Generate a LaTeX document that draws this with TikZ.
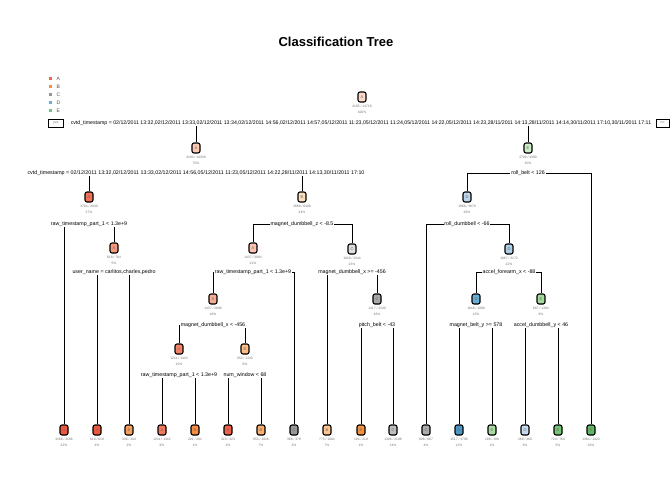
\documentclass[tikz,border=0pt]{standalone}
\usepackage{fontspec}
\setmainfont{Liberation Sans}
\begin{document}
\begin{tikzpicture}[x=1pt,y=-1pt]
\definecolor{cLa}{HTML}{EF6548}
\definecolor{cLb}{HTML}{FD8D3C}
\definecolor{cLc}{HTML}{969696}
\definecolor{cLd}{HTML}{6BAED6}
\definecolor{cLe}{HTML}{74C476}
\tikzset{
 tn/.style={draw=black, line width=1.1pt, rounded corners=2pt, minimum width=8pt, minimum height=10pt, inner sep=0pt, font=\fontsize{4}{4}\selectfont, text=black!60},
 sl/.style={fill=white, inner sep=0.8pt, font=\fontsize{5.3}{5.3}\selectfont},
 st/.style={font=\fontsize{3.3}{5.5}\selectfont, text=black!55, align=center, inner sep=0pt, anchor=north},
 br/.style={line width=0.9pt},
 yn/.style={draw=black, line width=1pt, minimum width=15pt, minimum height=8pt, inner sep=0pt, font=\fontsize{3.3}{3.3}\selectfont, text=black!55},
 lg/.style={minimum size=3pt, inner sep=0pt},
 lt/.style={font=\fontsize{5}{5}\selectfont, text=black!70, anchor=west, inner sep=0pt}
}
\useasboundingbox[fill=white] (0,0) rectangle (672,480);
\node[font=\fontsize{13}{13}\selectfont\bfseries] (title) at (336,42) {Classification Tree};
% legend
\node[lg, fill=cLa] (ga) at (50,78) {}; \node[lt] (ta) at (56.5,79) {A};
\node[lg, fill=cLb] (gb) at (50,86) {}; \node[lt] (tb) at (56.5,87) {B};
\node[lg, fill=cLc] (gc) at (50,94) {}; \node[lt] (tc) at (56.5,95) {C};
\node[lg, fill=cLd] (gd) at (50,102) {}; \node[lt] (td) at (56.5,103) {D};
\node[lg, fill=cLe] (ge) at (50,110) {}; \node[lt] (te) at (56.5,111) {E};
% internal nodes
\node[tn, fill={rgb,255:red,252;green,218;blue,202}] (n1) at (362,97) {A};
\node[tn, fill={rgb,255:red,252;green,200;blue,180}] (n2) at (196,148) {A};
\node[tn, fill={rgb,255:red,205;green,236;blue,199}] (n3) at (528,148) {E};
\node[tn, fill={rgb,255:red,243;green,112;blue,86}] (n4) at (89,197) {A};
\node[tn, fill={rgb,255:red,253;green,222;blue,186}] (n5) at (302,197) {B};
\node[tn, fill={rgb,255:red,188;green,214;blue,236}] (n6) at (467,197) {D};
\node[tn, fill={rgb,255:red,246;green,152;blue,125}] (n7) at (114,248) {A};
\node[tn, fill={rgb,255:red,252;green,196;blue,175}] (n8) at (253,248) {A};
\node[tn, fill={rgb,255:red,222;green,222;blue,222}] (n9) at (352,249) {C};
\node[tn, fill={rgb,255:red,172;green,206;blue,230}] (n10) at (509,249) {D};
\node[tn, fill={rgb,255:red,249;green,172;blue,149}] (n11) at (213,299) {A};
\node[tn, fill={rgb,255:red,168;green,168;blue,168}] (n12) at (377,299) {C};
\node[tn, fill={rgb,255:red,106;green,174;blue,214}] (n13) at (476,299) {D};
\node[tn, fill={rgb,255:red,165;green,218;blue,158}] (n14) at (541,299) {E};
\node[tn, fill={rgb,255:red,244;green,130;blue,102}] (n15) at (179,349) {A};
\node[tn, fill={rgb,255:red,253;green,190;blue,133}] (n16) at (245,349) {B};
% leaves
\node[tn, fill={rgb,255:red,238;green,88;blue,62}] (l1) at (64,430) {A};
\node[tn, fill={rgb,255:red,238;green,88;blue,62}] (l2) at (97,430) {A};
\node[tn, fill={rgb,255:red,249;green,160;blue,92}] (l3) at (129,430) {B};
\node[tn, fill={rgb,255:red,244;green,122;blue,94}] (l4) at (162,430) {A};
\node[tn, fill={rgb,255:red,248;green,140;blue,64}] (l5) at (195,430) {B};
\node[tn, fill={rgb,255:red,240;green,98;blue,72}] (l6) at (228,430) {A};
\node[tn, fill={rgb,255:red,252;green,174;blue,108}] (l7) at (261,430) {B};
\node[tn, fill={rgb,255:red,152;green,152;blue,152}] (l8) at (294,430) {C};
\node[tn, fill={rgb,255:red,253;green,196;blue,142}] (l9) at (327,430) {B};
\node[tn, fill={rgb,255:red,247;green,146;blue,62}] (l10) at (361,430) {B};
\node[tn, fill={rgb,255:red,190;green,190;blue,190}] (l11) at (393,430) {C};
\node[tn, fill={rgb,255:red,172;green,172;blue,172}] (l12) at (426,430) {C};
\node[tn, fill={rgb,255:red,74;green,152;blue,201}] (l13) at (459,430) {D};
\node[tn, fill={rgb,255:red,168;green,219;blue,160}] (l14) at (492,430) {E};
\node[tn, fill={rgb,255:red,198;green,219;blue,239}] (l15) at (525,430) {D};
\node[tn, fill={rgb,255:red,116;green,196;blue,118}] (l16) at (558,430) {E};
\node[tn, fill={rgb,255:red,96;green,184;blue,101}] (l17) at (591,430) {E};
% stats
\foreach \n/\t in {n1/{4185 / 14718\\100\%}, n2/{4183 / 10338\\70\%}, n3/{2706 / 4380\\30\%}, n4/{3784 / 3930\\27\%}, n5/{2688 / 6408\\44\%}, n6/{1868 / 3879\\26\%}, n7/{618 / 764\\5\%}, n8/{1437 / 3064\\21\%}, n9/{1628 / 3344\\23\%}, n10/{1687 / 3172\\22\%}, n11/{1437 / 2686\\18\%}, n12/{1417 / 2340\\16\%}, n13/{1648 / 1908\\13\%}, n14/{667 / 1264\\9\%}, n15/{1211 / 1443\\10\%}, n16/{953 / 1243\\8\%}, l1/{3166 / 3166\\22\%}, l2/{618 / 618\\4\%}, l3/{336 / 344\\2\%}, l4/{1211 / 1342\\9\%}, l5/{201 / 201\\1\%}, l6/{323 / 323\\2\%}, l7/{953 / 1016\\7\%}, l8/{366 / 378\\3\%}, l9/{773 / 1004\\7\%}, l10/{194 / 218\\1\%}, l11/{1396 / 2108\\14\%}, l12/{606 / 607\\4\%}, l13/{1517 / 1709\\12\%}, l14/{198 / 199\\1\%}, l15/{289 / 480\\3\%}, l16/{724 / 764\\5\%}, l17/{1384 / 1423\\10\%}}
  {\node[st] (t\n) at ([yshift=-2.5pt]\n.south) {\t};}
% split coordinates
\coordinate (s1) at (361,123);
\coordinate (s2) at (196,173);
\coordinate (s3) at (528,173);
\coordinate (s4) at (89,224);
\coordinate (s5) at (302,224);
\coordinate (s6) at (467,224);
\coordinate (s7) at (114,272);
\coordinate (s8) at (253,272);
\coordinate (s9) at (352,272);
\coordinate (s10) at (509,272);
\coordinate (s11) at (213,325);
\coordinate (s12) at (377,325);
\coordinate (s13) at (476,325);
\coordinate (s14) at (541,325);
\coordinate (s15) at (179,375);
\coordinate (s16) at (245,375);
% branches
\foreach \s/\a/\b in {s1/n2/n3, s2/n4/n5, s3/n6/l17, s4/l1/n7, s5/n8/n9, s6/l12/n10, s7/l2/l3, s8/n11/l8, s9/l9/n12, s10/n13/n14, s11/n15/n16, s12/l10/l11, s13/l13/l14, s14/l15/l16, s15/l4/l5, s16/l6/l7}
  {\draw[br] (\a.north) -- (\a.north |- \s) -- (\b.north |- \s) -- (\b.north);}
% split labels
\node[sl, inner sep=0.3pt, font=\fontsize{5.22}{5.22}\selectfont] (k1) at (s1) {cvtd\_timestamp = 02/12/2011 13:32,02/12/2011 13:33,02/12/2011 13:34,02/12/2011 14:56,02/12/2011 14:57,05/12/2011 11:23,05/12/2011 11:24,05/12/2011 14:22,05/12/2011 14:23,28/11/2011 14:13,28/11/2011 14:14,30/11/2011 17:10,30/11/2011 17:11};
\node[sl] (k2) at (s2) {cvtd\_timestamp = 02/12/2011 13:32,02/12/2011 13:33,02/12/2011 14:56,05/12/2011 11:23,05/12/2011 14:22,28/11/2011 14:13,30/11/2011 17:10};
\node[sl] (k3) at (s3) {roll\_belt < 126};
\node[sl] (k4) at (s4) {raw\_timestamp\_part\_1 < 1.3e+9};
\node[sl] (k5) at (s5) {magnet\_dumbbell\_z < -8.5};
\node[sl] (k6) at (s6) {roll\_dumbbell < -66};
\node[sl] (k7) at (s7) {user\_name = carlitos,charles,pedro};
\node[sl] (k8) at (s8) {raw\_timestamp\_part\_1 < 1.3e+9};
\node[sl] (k9) at (s9) {magnet\_dumbbell\_x >= -456};
\node[sl] (k10) at (s10) {accel\_forearm\_x < -88};
\node[sl] (k11) at (s11) {magnet\_dumbbell\_x < -456};
\node[sl] (k12) at (s12) {pitch\_belt < -43};
\node[sl] (k13) at (s13) {magnet\_belt\_y >= 578};
\node[sl] (k14) at (s14) {accel\_dumbbell\_y < 46};
\node[sl] (k15) at (s15) {raw\_timestamp\_part\_1 < 1.3e+9};
\node[sl] (k16) at (s16) {num\_window < 68};
% yes / no
\node[yn] (yes) at (56,123) {yes};
\node[yn, minimum width=13pt] (no) at (662.5,123) {no};
\end{tikzpicture}
\end{document}
